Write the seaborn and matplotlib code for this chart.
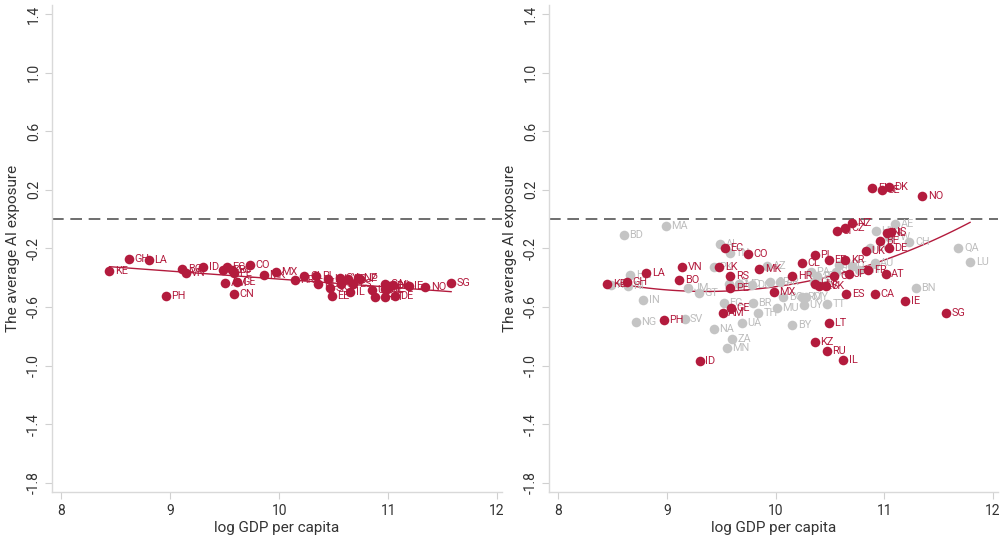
import matplotlib
matplotlib.use("Agg")
import matplotlib.pyplot as plt
import numpy as np
import pandas as pd
import seaborn as sns

RED = "#B31B3D"
GREY = "#C4C4C4"
GREY_TXT = "#BDBDBD"

# left panel: one group only
left_codes = ["KE", "GH", "LA", "PH", "BO", "VN", "ID", "LK", "AM", "EC", "RS", "PE", "GE",
              "CN", "CO", "MK", "MX", "HR", "CL", "PL", "HU", "LV", "SK", "EE", "CY", "SI",
              "IL", "KR", "ES", "JP", "NZ", "UK", "FR", "CA", "BE", "SE", "AT", "NL", "DE",
              "DK", "IE", "NO", "SG"]
left_gdp = [8.44, 8.62, 8.80, 8.96, 9.11, 9.14, 9.30, 9.48, 9.50, 9.52, 9.57, 9.58, 9.61,
            9.58, 9.73, 9.86, 9.97, 10.14, 10.23, 10.34, 10.36, 10.45, 10.47, 10.48, 10.56, 10.57,
            10.65, 10.63, 10.68, 10.74, 10.72, 10.85, 10.88, 10.97, 10.97, 10.99, 10.97, 11.04, 11.06,
            11.02, 11.19, 11.34, 11.58]
left_ai = [-0.355, -0.275, -0.28, -0.526, -0.343, -0.366, -0.327, -0.345, -0.435, -0.327, -0.35, -0.37, -0.43,
           -0.514, -0.316, -0.384, -0.36, -0.418, -0.39, -0.39, -0.446, -0.41, -0.47, -0.526, -0.40, -0.446,
           -0.50, -0.41, -0.44, -0.41, -0.40, -0.487, -0.53, -0.44, -0.476, -0.476, -0.53, -0.453, -0.526,
           -0.46, -0.46, -0.467, -0.435]

# right panel: highlighted group
red_codes = ["KE", "GH", "LA", "VN", "BO", "PH", "ID", "EC", "LK", "CO", "RS", "PE", "GE", "AM",
             "MK", "MX", "HR", "CL", "PL", "EE", "KR", "SI", "CZ", "NZ", "HU", "LV", "SK", "CY",
             "JP", "FR", "AT", "ES", "CA", "IE", "SG", "LT", "KZ", "RU", "IL", "UK", "DE", "BE",
             "NL", "IS", "FI", "SE", "DK", "NO"]
red_gdp = [8.45, 8.63, 8.81, 9.14, 9.11, 8.97, 9.30, 9.53, 9.48, 9.74, 9.58, 9.58, 9.59, 9.51,
           9.85, 9.98, 10.15, 10.24, 10.36, 10.49, 10.64, 10.56, 10.64, 10.70, 10.36, 10.40, 10.46, 10.54,
           10.67, 10.85, 11.01, 10.65, 10.91, 11.19, 11.57, 10.49, 10.36, 10.47, 10.62, 10.83, 11.04, 10.96,
           11.02, 11.06, 10.89, 10.98, 11.04, 11.35]
red_ai = [-0.44, -0.43, -0.371, -0.33, -0.416, -0.69, -0.967, -0.20, -0.326, -0.24, -0.39, -0.47, -0.61, -0.64,
          -0.34, -0.496, -0.39, -0.30, -0.246, -0.28, -0.28, -0.08, -0.064, -0.025, -0.44, -0.46, -0.46, -0.39,
          -0.375, -0.348, -0.375, -0.515, -0.51, -0.56, -0.64, -0.71, -0.84, -0.90, -0.96, -0.22, -0.20, -0.148,
          -0.094, -0.085, 0.209, 0.197, 0.22, 0.159]

# right panel: other countries
grey_codes = ["BD", "MA", "HN", "KG", "NI", "IN", "NG", "SV", "JM", "GT", "AL", "TN", "PK", "EG",
              "BR", "TH", "MU", "UA", "NA", "BY", "ZA", "MN", "BG", "RO", "MY", "UY", "TT", "PA",
              "AZ", "CR", "DO", "JO", "MD", "AR", "GR", "PT", "SA", "MT", "IT", "BH", "AU", "KW",
              "HK", "AE", "TW", "CH", "QA", "LU", "BN"]
grey_gdp = [8.60, 8.99, 8.66, 8.48, 8.64, 8.78, 8.71, 9.16, 9.19, 9.29, 9.49, 9.58, 9.43, 9.52,
            9.79, 9.84, 10.01, 9.69, 9.43, 10.15, 9.60, 9.55, 10.07, 10.24, 10.28, 10.26, 10.47, 10.32,
            9.92, 9.95, 9.78, 9.57, 9.66, 10.04, 10.35, 10.38, 10.55, 10.58, 10.70, 10.77, 10.91, 10.87,
            10.92, 11.10, 11.04, 11.23, 11.68, 11.79, 11.29]
grey_ai = [-0.109, -0.046, -0.38, -0.45, -0.457, -0.55, -0.70, -0.68, -0.47, -0.505, -0.17, -0.235, -0.326, -0.57,
           -0.57, -0.64, -0.61, -0.71, -0.75, -0.72, -0.82, -0.88, -0.53, -0.53, -0.53, -0.59, -0.58, -0.36,
           -0.32, -0.43, -0.45, -0.44, -0.44, -0.43, -0.43, -0.39, -0.36, -0.315, -0.32, -0.35, -0.30, -0.20,
           -0.08, -0.034, -0.12, -0.155, -0.196, -0.29, -0.474]

x_ticks = [8, 9, 10, 11, 12]
y_ticks = [1.4, 1.0, 0.6, 0.2, -0.2, -0.6, -1.0, -1.4, -1.8]

sns.set_style("white")
plt.rcParams["font.family"] = ["Roboto", "DejaVu Sans"]

left = pd.DataFrame({"code": left_codes, "gdp": left_gdp, "ai": left_ai})
red = pd.DataFrame({"code": red_codes, "gdp": red_gdp, "ai": red_ai})
grey = pd.DataFrame({"code": grey_codes, "gdp": grey_gdp, "ai": grey_ai})

fig = plt.figure(figsize=(10, 5.41), dpi=100)
ax1 = fig.add_axes([0.052, 0.0906, 0.45, 0.90])
ax2 = fig.add_axes([0.549, 0.0906, 0.449, 0.90])


def label_points(ax, df, color):
    for _, r in df.iterrows():
        ax.annotate(r["code"], (r["gdp"], r["ai"]), xytext=(4, 0), textcoords="offset points",
                    ha="left", va="center", fontsize=7.8, color=color)


def style_axis(ax):
    ax.axhline(0, color="#555555", lw=1.2, dashes=(7, 4), zorder=0)
    ax.set_xlim(7.913, 12.045)
    ax.set_ylim(-1.8635, 1.461)
    ax.set_xticks(x_ticks)
    ax.set_yticks(y_ticks)
    ax.set_yticklabels([f"{v:.1f}" for v in y_ticks], rotation=90, va="center")
    ax.tick_params(axis="both", length=5, color="#d0d0d0", labelsize=10, labelcolor="#333333",
                   direction="out", left=True, bottom=True)
    ax.tick_params(axis="y", pad=3)
    sns.despine(ax=ax)
    for side in ["left", "bottom"]:
        ax.spines[side].set_color("#d9d9d9")
        ax.spines[side].set_linewidth(1)


# left panel
style_axis(ax1)
sns.regplot(data=left, x="gdp", y="ai", ax=ax1, scatter=False, ci=None, truncate=True,
            line_kws={"color": RED, "lw": 1})
label_points(ax1, left, RED)
sns.scatterplot(data=left, x="gdp", y="ai", ax=ax1, color=RED, s=48, linewidth=0, zorder=3)
ax1.set_xlabel("log GDP per capita", fontsize=11, color="#333333", labelpad=2)
ax1.set_ylabel("The average AI exposure", fontsize=11, color="#333333", labelpad=5)

# right panel
style_axis(ax2)
both = pd.concat([red, grey], ignore_index=True)
label_points(ax2, grey, GREY_TXT)
sns.scatterplot(data=grey, x="gdp", y="ai", ax=ax2, color=GREY, s=48, linewidth=0, zorder=3)
sns.regplot(data=both, x="gdp", y="ai", ax=ax2, order=2, scatter=False, ci=None, truncate=True,
            line_kws={"color": RED, "lw": 1})
label_points(ax2, red, RED)
sns.scatterplot(data=red, x="gdp", y="ai", ax=ax2, color=RED, s=48, linewidth=0, zorder=4)
ax2.set_xlabel("log GDP per capita", fontsize=11, color="#333333", labelpad=2)
ax2.set_ylabel("The average AI exposure", fontsize=11, color="#333333", labelpad=5)

fig.savefig("out.png", dpi=100)
plt.close(fig)
